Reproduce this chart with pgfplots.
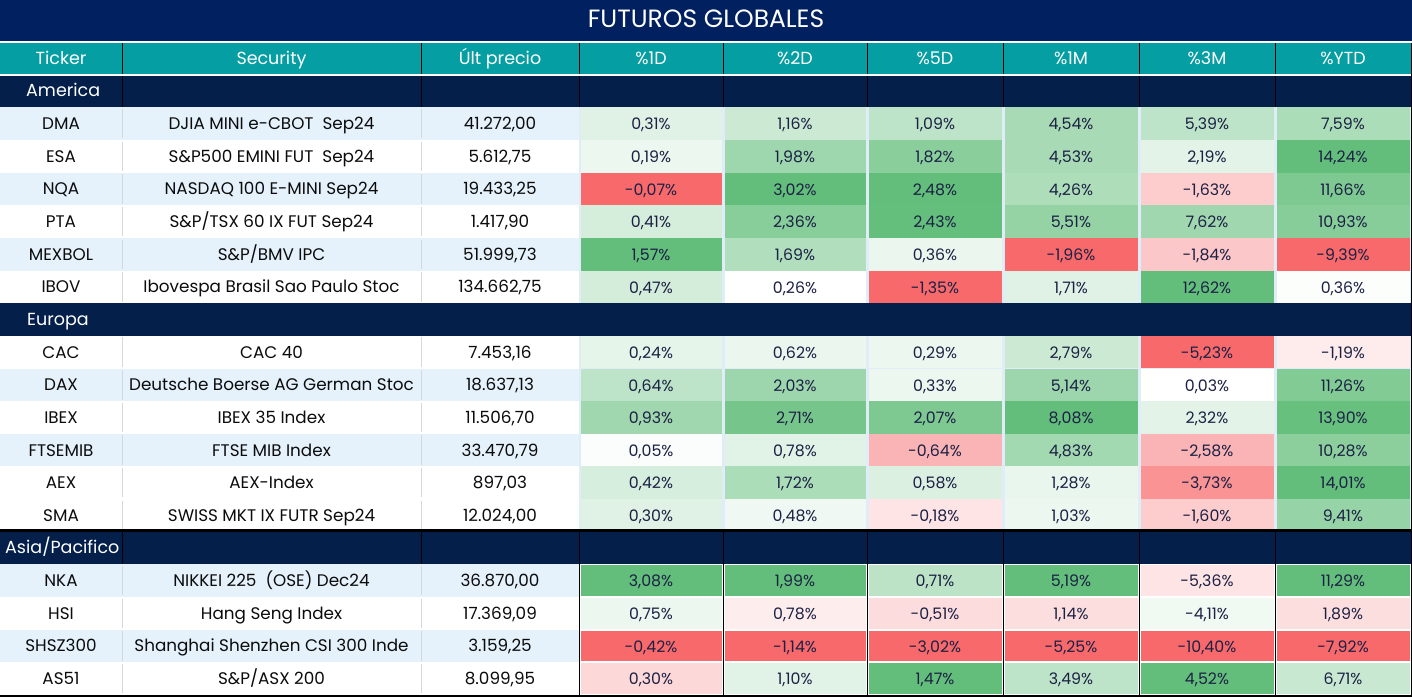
\documentclass[border=0pt]{standalone}
\usepackage{pgfplots}
\pgfplotsset{compat=1.18}
\usepackage{fontspec}
\setmainfont{Poppins}
\definecolor{navyT}{RGB}{0,32,96}
\definecolor{navyS}{RGB}{4,31,74}
\definecolor{tealH}{RGB}{5,158,163}
\definecolor{lb}{RGB}{229,242,252}
\definecolor{gapc}{RGB}{224,237,248}
\definecolor{G}{RGB}{99,190,123}
\definecolor{R}{RGB}{248,105,107}
\definecolor{htxt}{RGB}{28,33,68}
\definecolor{ltxt}{RGB}{12,12,12}
\definecolor{sep}{RGB}{215,215,215}
\newcommand\lf{\fontsize{16.8bp}{19bp}\selectfont}
\newcommand\hf{\fontsize{15.8bp}{19bp}\selectfont}
\newcommand\thf{\fontsize{17.5bp}{20bp}\selectfont}
\newcommand\tf{\fontsize{25bp}{28bp}\selectfont}
% rectangle: x1 x2 y1 y2 colour
\newcommand\rect[5]{\addplot[draw=none,fill=#5,forget plot] coordinates {(#1,#3) (#2,#3) (#2,#4) (#1,#4)} --cycle;}
% vertical line: x y1 y2 colour
\newcommand\vl[4]{\addplot[draw=#4,line width=1bp,forget plot] coordinates {(#1,#2) (#1,#3)};}
% left part of a data row: row bg ticker security price
\newcommand\lrow[5]{%
  \rect{0}{579}{#1}{#1.9999}{#2}
  \vl{122}{#1.05}{#1.95}{sep}
  \vl{421}{#1.05}{#1.95}{sep}
  \node[anchor=base,font=\lf,text=ltxt] at (axis cs:61,#1.68) {#3};
  \node[anchor=base,font=\lf,text=ltxt] at (axis cs:271.5,#1.68) {#4};
  \node[anchor=base,font=\lf,text=ltxt] at (axis cs:500,#1.68) {#5};
}
% heat cell: x1 x2 xc row colour text
\newcommand\hc[6]{%
  \rect{#1}{#2}{#4}{#4.9999}{#5}
  \node[anchor=base,font=\hf,text=htxt] at (axis cs:#3,#4.69) {#6};
}
\newcommand\hcA[6]{%
  \rect{#1}{#2}{#4.03}{#4.97}{#5}
  \node[anchor=base,font=\hf,text=htxt] at (axis cs:#3,#4.69) {#6};
}
% three heat cells: cellmacro row c1 t1 c2 t2 c3 t3
\newcommand\hrow[8]{#1{580.5}{721.5}{651}{#2}{#3}{#4}#1{724.5}{865.5}{795}{#2}{#5}{#6}#1{868.5}{1001.5}{935}{#2}{#7}{#8}}
\newcommand\hrowb[8]{#1{1004.5}{1137.5}{1071}{#2}{#3}{#4}#1{1140.5}{1273.5}{1207}{#2}{#5}{#6}#1{1276.5}{1410}{1343}{#2}{#7}{#8}}
\begin{document}
\begin{tikzpicture}
\begin{axis}[width=1412bp,height=697bp,scale only axis,
  xmin=0,xmax=1412,ymin=-1.2864,ymax=20.0613,y dir=reverse,
  hide axis,clip=false]
% background
\rect{0}{1412}{-1.2864}{20.0613}{white}
% title
\rect{0}{1412}{-1.2864}{-0.0306}{navyT}
\node[anchor=base,font=\tf,text=white] at (axis cs:706,-0.45) {FUTUROS GLOBALES};
% header
\rect{0}{1412}{0.0306}{0.971}{tealH}
\vl{122}{0.0306}{0.971}{black}\vl{421}{0.0306}{0.971}{black}\vl{579}{0.0306}{0.971}{black}
\vl{723}{0.0306}{0.971}{black}\vl{867}{0.0306}{0.971}{black}\vl{1003}{0.0306}{0.971}{black}
\vl{1139}{0.0306}{0.971}{black}\vl{1275}{0.0306}{0.971}{black}
\node[anchor=base,font=\thf,text=white] at (axis cs:61,0.674) {Ticker};
\node[anchor=base,font=\thf,text=white] at (axis cs:271.5,0.674) {Security};
\node[anchor=base,font=\thf,text=white] at (axis cs:500,0.674) {Últ precio};
\node[anchor=base,font=\thf,text=white] at (axis cs:651,0.674) {\%1D};
\node[anchor=base,font=\thf,text=white] at (axis cs:795,0.674) {\%2D};
\node[anchor=base,font=\thf,text=white] at (axis cs:935,0.674) {\%5D};
\node[anchor=base,font=\thf,text=white] at (axis cs:1071,0.674) {\%1M};
\node[anchor=base,font=\thf,text=white] at (axis cs:1207,0.674) {\%3M};
\node[anchor=base,font=\thf,text=white] at (axis cs:1343,0.674) {\%YTD};
% America section
\rect{0}{1412}{1.041}{1.9999}{navyS}
\vl{122}{1.041}{2}{black}\vl{421}{1.041}{2}{black}\vl{579}{1.041}{2}{black}
\vl{723}{1.041}{2}{black}\vl{867}{1.041}{2}{black}\vl{1003}{1.041}{2}{black}
\vl{1139}{1.041}{2}{black}\vl{1275}{1.041}{2}{black}
\node[anchor=base west,font=\thf,text=white,inner sep=0pt] at (axis cs:26,1.675) {America};
% heat background (America, Europa)
\rect{579}{1412}{2}{7.9999}{gapc}
\rect{579}{1412}{9}{14.9999}{gapc}
% America rows
\lrow{2}{lb}{DMA}{DJIA MINI e-CBOT\ \ Sep24}{41.272,00}
\lrow{3}{white}{ESA}{S\&P500 EMINI FUT\ \ Sep24}{5.612,75}
\lrow{4}{lb}{NQA}{NASDAQ 100 E-MINI Sep24}{19.433,25}
\lrow{5}{white}{PTA}{S\&P/TSX 60 IX FUT Sep24}{1.417,90}
\lrow{6}{lb}{MEXBOL}{S\&P/BMV IPC}{51.999,73}
\lrow{7}{white}{IBOV}{Ibovespa Brasil Sao Paulo Stoc}{134.662,75}
\hrow{\hc}{2}{G!20}{0,31\%}{G!33}{1,16\%}{G!42}{1,09\%}
\hrowb{\hc}{2}{G!56}{4,54\%}{G!42}{5,39\%}{G!53}{7,59\%}
\hrow{\hc}{3}{G!12}{0,19\%}{G!62}{1,98\%}{G!75}{1,82\%}
\hrowb{\hc}{3}{G!56}{4,53\%}{G!18}{2,19\%}{G}{14,24\%}
\hrow{\hc}{4}{R}{-0,07\%}{G}{3,02\%}{G}{2,48\%}
\hrowb{\hc}{4}{G!52}{4,26\%}{R!33}{-1,63\%}{G!83}{11,66\%}
\hrow{\hc}{5}{G!27}{0,41\%}{G!76}{2,36\%}{G!99}{2,43\%}
\hrowb{\hc}{5}{G!68}{5,51\%}{G!61}{7,62\%}{G!77}{10,93\%}
\hrow{\hc}{6}{G}{1,57\%}{G!50}{1,69\%}{G!13}{0,36\%}
\hrowb{\hc}{6}{R}{-1,96\%}{R!37}{-1,84\%}{R}{-9,39\%}
\hrow{\hc}{7}{G!28}{0,47\%}{white}{0,26\%}{R}{-1,35\%}
\hrowb{\hc}{7}{G!20}{1,71\%}{G}{12,62\%}{G!2}{0,36\%}
% Europa section
\rect{0}{1412}{8}{8.9999}{navyS}
\node[anchor=base west,font=\thf,text=white,inner sep=0pt] at (axis cs:27,8.675) {Europa};
\lrow{9}{white}{CAC}{CAC 40}{7.453,16}
\lrow{10}{lb}{DAX}{Deutsche Boerse AG German Stoc}{18.637,13}
\lrow{11}{white}{IBEX}{IBEX 35 Index}{11.506,70}
\lrow{12}{lb}{FTSEMIB}{FTSE MIB Index}{33.470,79}
\lrow{13}{white}{AEX}{AEX-Index}{897,03}
\lrow{14}{white}{SMA}{SWISS MKT IX FUTR Sep24}{12.024,00}
\hrow{\hc}{9}{G!16}{0,24\%}{G!13}{0,62\%}{G!12}{0,29\%}
\hrowb{\hc}{9}{G!33}{2,79\%}{R}{-5,23\%}{R!13}{-1,19\%}
\hrow{\hc}{10}{G!42}{0,64\%}{G!63}{2,03\%}{G!12}{0,33\%}
\hrowb{\hc}{10}{G!63}{5,14\%}{white}{0,03\%}{G!80}{11,26\%}
\hrow{\hc}{11}{G!61}{0,93\%}{G!88}{2,71\%}{G!83}{2,07\%}
\hrowb{\hc}{11}{G}{8,08\%}{G!18}{2,32\%}{G!97}{13,90\%}
\hrow{\hc}{12}{G!3}{0,05\%}{G!19}{0,78\%}{R!50}{-0,64\%}
\hrowb{\hc}{12}{G!59}{4,83\%}{R!50}{-2,58\%}{G!74}{10,28\%}
\hrow{\hc}{13}{G!26}{0,42\%}{G!53}{1,72\%}{G!23}{0,58\%}
\hrowb{\hc}{13}{G!14}{1,28\%}{R!72}{-3,73\%}{G}{14,01\%}
\hrow{\hc}{14}{G!20}{0,30\%}{G!10}{0,48\%}{R!18}{-0,18\%}
\hrowb{\hc}{14}{G!12}{1,03\%}{R!33}{-1,60\%}{G!67}{9,41\%}
% Asia section
\rect{0}{1412}{14.931}{15.008}{black}
\rect{0}{1412}{15.008}{15.975}{navyS}
\node[anchor=base west,font=\thf,text=white,inner sep=0pt] at (axis cs:5,15.675) {Asia/Pacifico};
\lrow{16}{lb}{NKA}{NIKKEI 225\ \ (OSE) Dec24}{36.870,00}
\lrow{17}{white}{HSI}{Hang Seng Index}{17.369,09}
\lrow{18}{lb}{SHSZ300}{Shanghai Shenzhen CSI 300 Inde}{3.159,25}
\lrow{19}{white}{AS51}{S\&P/ASX 200}{8.099,95}
\rect{579}{1412}{16}{19.9999}{white}
\hrow{\hcA}{16}{G}{3,08\%}{G}{1,99\%}{G!43}{0,71\%}
\hrowb{\hcA}{16}{G}{5,19\%}{R!18}{-5,36\%}{G}{11,29\%}
\hrow{\hcA}{17}{G!12}{0,75\%}{R!12}{0,78\%}{R!23}{-0,51\%}
\hrowb{\hcA}{17}{R!22}{1,14\%}{G!9}{-4,11\%}{R!22}{1,89\%}
\hrow{\hcA}{18}{R}{-0,42\%}{R}{-1,14\%}{R}{-3,02\%}
\hrowb{\hcA}{18}{R}{-5,25\%}{R}{-10,40\%}{R}{-7,92\%}
\hrow{\hcA}{19}{R!26}{0,30\%}{G!19}{1,10\%}{G}{1,47\%}
\hrowb{\hcA}{19}{G!42}{3,49\%}{G}{4,52\%}{G!35}{6,71\%}
\vl{122}{15.008}{15.975}{black}\vl{421}{15.008}{15.975}{black}
\vl{579}{15.008}{20}{black}\vl{723}{15.008}{20}{black}\vl{867}{15.008}{20}{black}
\vl{1003}{15.008}{20}{black}\vl{1139}{15.008}{20}{black}\vl{1275}{15.008}{20}{black}
% borders
\rect{0}{1412}{20.0}{20.0613}{black}
\rect{1410.5}{1412}{0.0306}{20.0613}{black}
\end{axis}
\end{tikzpicture}
\end{document}
